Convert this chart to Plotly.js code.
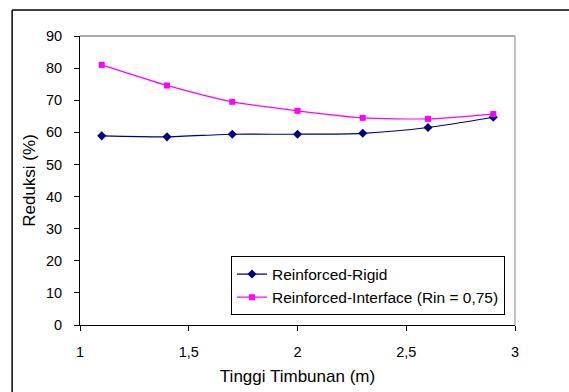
<!DOCTYPE html>
<html>
<head>
<meta charset="utf-8">
<script src="https://cdn.plot.ly/plotly-3.0.1.min.js"></script>
<style>html,body{margin:0;padding:0;background:#fff;}#chart{width:569px;height:392px;}</style>
</head>
<body>
<div id="chart"></div>
<script>
const tinggi = [1.1, 1.4, 1.7, 2.0, 2.3, 2.6, 2.9];
const rigid = [58.9, 58.6, 59.4, 59.4, 59.7, 61.5, 64.7];
const interfaceRin = [81.0, 74.6, 69.5, 66.7, 64.5, 64.2, 65.7];
const seriesNames = ['Reinforced-Rigid', 'Reinforced-Interface (Rin = 0,75)'];
const xTicks = [1, 1.5, 2, 2.5, 3];
const xTickText = ['1', '1,5', '2', '2,5', '3'];
const yTicks = [0, 10, 20, 30, 40, 50, 60, 70, 80, 90];

const FONT = '"Liberation Sans", Arial, sans-serif';

const traces = [
  {
    x: tinggi, y: rigid, name: seriesNames[0], type: 'scatter', mode: 'lines+markers',
    line: {color: '#000080', width: 1.2, shape: 'spline', smoothing: 0.6},
    marker: {symbol: 'diamond', size: 7, color: '#000080'}
  },
  {
    x: tinggi, y: interfaceRin, name: seriesNames[1], type: 'scatter', mode: 'lines+markers',
    line: {color: '#FF00FF', width: 1.2, shape: 'spline', smoothing: 0.6},
    marker: {symbol: 'square', size: 6, color: '#FF00FF'}
  }
];

const layout = {
  width: 569, height: 392,
  margin: {l: 80, r: 54, t: 36, b: 67, pad: 0},
  paper_bgcolor: '#fff', plot_bgcolor: '#fff',
  font: {family: FONT, size: 14, color: '#000'},
  showlegend: true,
  legend: {
    x: 0.977, y: 0.033, xanchor: 'right', yanchor: 'bottom',
    bgcolor: '#fff', bordercolor: '#000', borderwidth: 1,
    font: {family: FONT, size: 15.5, color: '#000'},
    tracegroupgap: 0, itemwidth: 30
  },
  xaxis: {
    range: [1, 3], tickvals: xTicks, ticktext: xTickText,
    showgrid: false, zeroline: false,
    showline: true, linecolor: '#000', linewidth: 1,
    ticks: 'outside', ticklen: 5, tickcolor: '#000',
    ticklabelstandoff: 9,
    tickfont: {family: FONT, size: 14.5},
    title: {text: 'Tinggi Timbunan (m)', font: {family: FONT, size: 17}, standoff: 10}
  },
  yaxis: {
    range: [0, 90], tickvals: yTicks,
    showgrid: false, zeroline: false,
    showline: true, linecolor: '#000', linewidth: 1,
    ticks: 'outside', ticklen: 5, tickcolor: '#000',
    ticklabelstandoff: 9,
    tickfont: {family: FONT, size: 14.5},
    title: {text: 'Reduksi (%)', font: {family: FONT, size: 17}, standoff: 6}
  },
  shapes: [
    {type: 'line', xref: 'paper', yref: 'paper', x0: 0, x1: 1, y0: 1, y1: 1, line: {color: '#555', width: 1}},
    {type: 'line', xref: 'paper', yref: 'paper', x0: 1, x1: 1, y0: 0, y1: 1, line: {color: '#888', width: 1}},
    {type: 'line', xref: 'paper', yref: 'paper', x0: -0.156, x1: 1.3, y0: 1.09, y1: 1.09, line: {color: '#000', width: 1.5}},
    {type: 'line', xref: 'paper', yref: 'paper', x0: -0.156, x1: -0.156, y0: 1.09, y1: -0.3, line: {color: '#000', width: 1.5}}
  ]
};

Plotly.newPlot('chart', traces, layout, {displayModeBar: false, staticPlot: true});
</script>
</body>
</html>
